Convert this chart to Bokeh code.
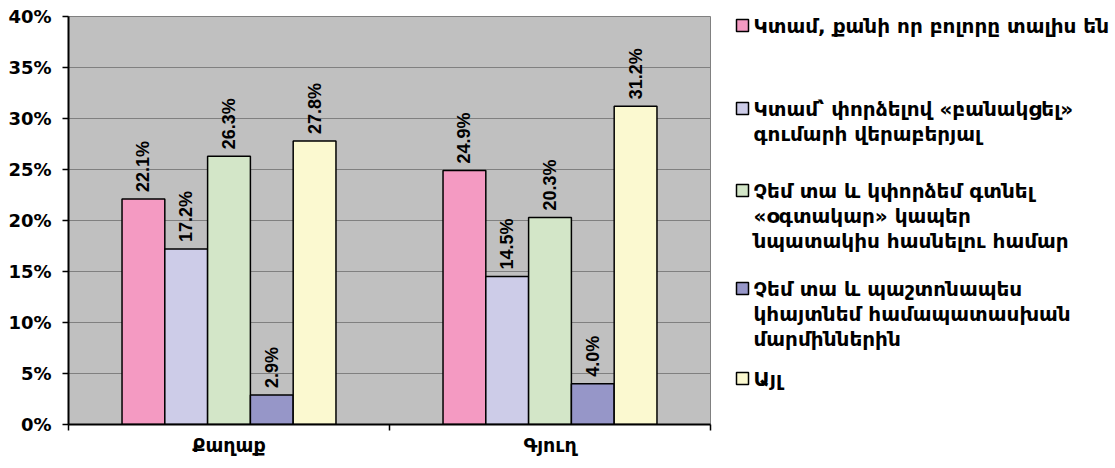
from bokeh.plotting import figure
from bokeh.layouts import row
from bokeh.models import Range1d, FixedTicker, NumeralTickFormatter, ColumnDataSource
from bokeh.core.properties import value
from bokeh.embed import file_html
from bokeh.resources import INLINE

categories = ["Քաղաք", "Գյուղ"]
series_names = [
    "Կտամ, քանի որ բոլորը տալիս են",
    "Կտամ՝ փորձելով «բանակցել»\nգումարի վերաբերյալ",
    "Չեմ տա և կփորձեմ գտնել\n«օգտակար» կապեր\nնպատակիս հասնելու համար",
    "Չեմ տա և պաշտոնապես\nկհայտնեմ համապատասխան\nմարմիններին",
    "Այլ",
]
values_city = [22.1, 17.2, 26.3, 2.9, 27.8]
values_village = [24.9, 14.5, 20.3, 4.0, 31.2]
colors = ["#F49AC2", "#CDCCE8", "#D3E6C8", "#9696C8", "#FBF9D0"]
y_ticks = [0.0, 0.05, 0.10, 0.15, 0.20, 0.25, 0.30, 0.35, 0.40]

series_values = [[values_city[j], values_village[j]] for j in range(len(series_names))]

BAR_W = 0.1333
TOP, FH = 16, 408

p = figure(frame_width=642, frame_height=FH, output_backend="svg", toolbar_location=None,
           x_range=Range1d(0, 2), y_range=Range1d(0, 0.40),
           min_border_left=68, min_border_right=10, min_border_top=TOP, min_border_bottom=38)
p.border_fill_color = "white"
p.background_fill_color = "#C0C0C0"
p.outline_line_color = "#808080"
p.outline_line_width = 1

# bars + labels
for j, name in enumerate(series_names):
    xs = [i + 0.5 + (j - 2) * BAR_W for i in range(len(categories))]
    tops = [v / 100.0 for v in series_values[j]]
    src = ColumnDataSource(dict(x=xs, top=tops, lab=[f"{v:.1f}%" for v in series_values[j]]))
    p.vbar(x="x", top="top", bottom=0, width=BAR_W, source=src,
           fill_color=colors[j], line_color="black", line_width=1.5)
    p.text(x="x", y="top", text="lab", source=src, angle=1.5708,
           text_align="left", text_baseline="middle", x_offset=0, y_offset=-7,
           text_font=value("Liberation Sans"), text_font_style="bold",
           text_font_size="18px", text_color="black")

# y axis
p.yaxis.ticker = FixedTicker(ticks=y_ticks)
p.yaxis.formatter = NumeralTickFormatter(format="0%")
p.yaxis.major_label_text_font = "DejaVu Sans"
p.yaxis.major_label_text_font_style = "bold"
p.yaxis.major_label_text_font_size = "18px"
p.yaxis.major_label_text_color = "black"
p.yaxis.axis_line_color = "black"
p.yaxis.axis_line_width = 2
p.yaxis.major_tick_out = 6
p.yaxis.major_tick_in = 0
p.yaxis.major_tick_line_color = "black"
p.yaxis.major_tick_line_width = 1.5
p.yaxis.minor_tick_line_color = None
p.yaxis.major_label_standoff = 11

# x axis
p.xaxis.ticker = FixedTicker(ticks=[0.5, 1.5], minor_ticks=[0, 1, 2])
p.xaxis.major_label_overrides = {0.5: categories[0], 1.5: categories[1]}
p.xaxis.major_tick_out = 0
p.xaxis.major_tick_in = 0
p.xaxis.minor_tick_out = 6
p.xaxis.minor_tick_in = 0
p.xaxis.minor_tick_line_color = "black"
p.xaxis.minor_tick_line_width = 1.5
p.xaxis.axis_line_color = "black"
p.xaxis.axis_line_width = 2
p.xaxis.major_label_text_font = "DejaVu Sans"
p.xaxis.major_label_text_font_style = "bold"
p.xaxis.major_label_text_font_size = "19px"
p.xaxis.major_label_text_color = "black"
p.xaxis.major_label_standoff = 3

p.xgrid.grid_line_color = None
p.ygrid.ticker = FixedTicker(ticks=y_ticks)
p.ygrid.grid_line_color = "#808080"
p.ygrid.grid_line_width = 1

# legend panel (its frame is aligned with the main frame: page y 16..424)
LW = 395
lg = figure(width=LW, height=TOP + FH + 38, output_backend="svg", toolbar_location=None,
            x_range=Range1d(0, LW), y_range=Range1d(TOP + FH, TOP),
            min_border=0, outline_line_color=None)
lg.axis.visible = False
lg.grid.visible = False
lg.background_fill_color = "white"
lg.border_fill_color = "white"

legend_top_y = [25, 108, 190, 288, 378]
LINE_PITCH = 25
sq_x, sq_y, sq_c = [], [], []
tx, ty, tt = [], [], []
for j, name in enumerate(series_names):
    sq_x.append(22)
    sq_y.append(legend_top_y[j])
    sq_c.append(colors[j])
    for k, line in enumerate(name.split("\n")):
        tx.append(33)
        ty.append(legend_top_y[j] + k * LINE_PITCH)
        tt.append(line)
lg.scatter(x=sq_x, y=sq_y, marker="square", size=12, fill_color=sq_c,
           line_color="black", line_width=1.5)
lg.text(x=tx, y=ty, text=tt, text_align="left", text_baseline="middle",
        text_font=value("DejaVu Sans"), text_font_style="bold",
        text_font_size="20px", text_color="black")

layout = row(p, lg)
open("out.html", "w").write(file_html(layout, INLINE))
